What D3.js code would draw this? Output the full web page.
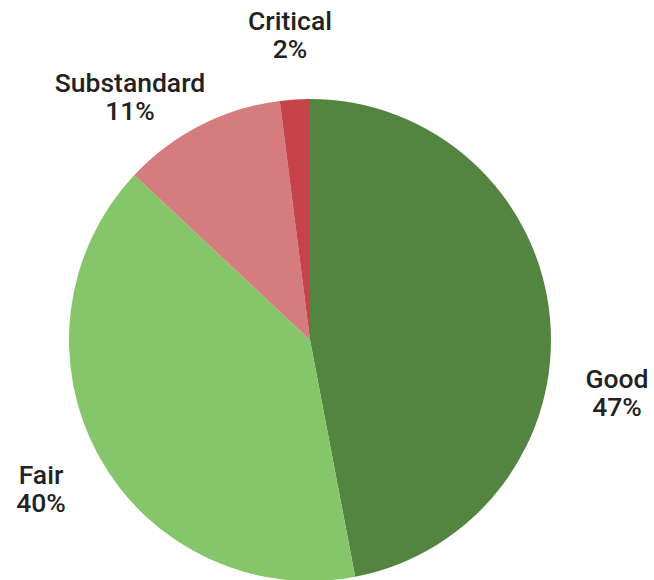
<!DOCTYPE html>
<html><head><meta charset="utf-8">
<script src="https://cdn.jsdelivr.net/npm/d3@7"></script>
<style>html,body{margin:0;padding:0;background:#fff;}svg{display:block;}</style>
</head><body>
<svg id="chart" width="654" height="580"></svg>
<script>
const categories = ["Good", "Fair", "Substandard", "Critical"];
const values = [47, 40, 11, 2];
const colors = ["#548540", "#85c66a", "#d47c7e", "#c6434a"];
// label anchor positions (layout only)
const labelPos = [[617, 388], [41, 484], [130, 92], [290, 30]];

const svg = d3.select("#chart");
const cx = 310, cy = 340, R = 241;
const pie = d3.pie().sort(null).value(d => d.v);
const arc = d3.arc().innerRadius(0).outerRadius(R);
const data = categories.map((c, i) => ({c, v: values[i], col: colors[i], lp: labelPos[i]}));
const arcs = pie(data);
const g = svg.append("g").attr("transform", `translate(${cx},${cy})`);
g.selectAll("path").data(arcs).join("path").attr("d", arc).attr("fill", d => d.data.col);

const lbl = svg.append("g").attr("font-family", "Roboto").attr("font-weight", 500)
  .attr("font-size", 26.5).attr("fill", "#222").attr("text-anchor", "middle");
arcs.forEach(a => {
  const t = lbl.append("text").attr("x", a.data.lp[0]).attr("y", a.data.lp[1]);
  t.append("tspan").attr("x", a.data.lp[0]).text(a.data.c);
  t.append("tspan").attr("x", a.data.lp[0]).attr("dy", 28).text(Math.round(a.data.v) + "%");
});
</script>
</body></html>
